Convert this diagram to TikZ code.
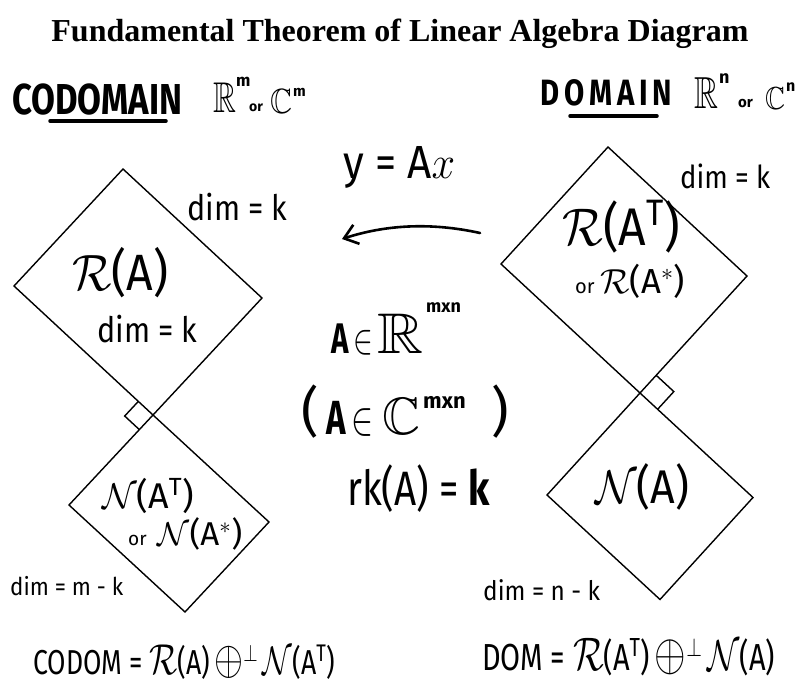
\documentclass[tikz,border=0pt]{standalone}
\usepackage{amsmath,amssymb}
\usepackage{fontspec}
\setmainfont{Liberation Serif}
\newfontfamily\hand{Fira Sans}
\usetikzlibrary{arrows.meta,calc}
\newcommand\hw[2]{\resizebox{#1pt}{!}{\fontsize{20.74}{24}\selectfont\hand #2}}
\newcommand\tallx[1]{\scalebox{1}[1.25]{#1}}
\newcommand\vs[2]{\scalebox{1}[#1]{#2}}
\newcommand\hs[1]{\fontsize{#1}{#1}\selectfont\hand}
\newcommand\bigR{\scalebox{1.25}{$\mathcal{R}$}}
\newcommand\bigN{\scalebox{1.15}{$\mathcal{N}$}}
\newcommand\osum{\,\scalebox{1.4}{$\oplus$}$^{\perp}$\,}
\begin{document}
\begin{tikzpicture}[x=1pt,y=-1pt,
  edge/.style={line width=1.4pt, line join=miter},
  txt/.style={inner sep=0pt, anchor=base west},
  uline/.style={line width=3.5pt, line cap=round},
  arr/.style={line width=2.6pt, line cap=round, -{Straight Barb[length=13pt,width=20pt]}}]
\useasboundingbox (0,0) rectangle (800,698);
% title
\node[inner sep=0pt, anchor=base, font=\bfseries\fontsize{32}{36}\selectfont] (title) at (400,42) {Fundamental Theorem of Linear Algebra Diagram};
% left header
\node[txt] (codomain) at (12,115) {\hw{170}{\bfseries\tallx{CODOMAIN}}};
\coordinate (u1a) at (50,121); \coordinate (u1b) at (166,121);
\draw[uline] (u1a) -- (u1b);
\node[txt] (R1) at (213,113) {\hw{23}{\vs{1.35}{$\mathbb{R}$}}};
\node[txt] (m1) at (236,87) {\hs{17}\bfseries m};
\node[txt] (or1) at (249,112) {\hs{14}\bfseries or};
\node[txt] (C1) at (270,114) {\hw{22}{\vs{1.15}{$\mathbb{C}$}}};
\node[txt] (m1b) at (293,97) {\hs{15}\bfseries m};
% right header
\node[txt] (domain) at (540,106) {\hw{132}{\bfseries\tallx{D\,O\,M\,A\,I\,N}}};
\coordinate (u2a) at (570,116); \coordinate (u2b) at (657,116);
\draw[uline] (u2a) -- (u2b);
\node[txt] (R2) at (694,108) {\hw{24}{\vs{1.35}{$\mathbb{R}$}}};
\node[txt] (n2) at (719,84) {\hs{18}\bfseries n};
\node[txt] (or2) at (738,108) {\hs{15}\bfseries or};
\node[txt] (C2) at (765,110) {\hw{20}{\vs{1.15}{$\mathbb{C}$}}};
\node[txt] (n2b) at (786,92) {\hs{16}\bfseries n};
% diamonds left
\coordinate (LT) at (123,169); \coordinate (LL) at (14,286);
\coordinate (LR) at (262,298); \coordinate (LB) at (153,415);
\coordinate (SL1) at (69,505); \coordinate (SR1) at (269,522); \coordinate (SB1) at (185,612);
\draw[edge] (LT) -- (LR) -- (LB) -- (LL) -- cycle;
\draw[edge] (LB) -- (SR1) -- (SB1) -- (SL1) -- cycle;
\coordinate (qa) at ($(LB)!20pt!(LL)$);
\coordinate (qb) at ($(LB)!20pt!(SL1)$);
\draw[edge] (qa) -- ($(qa)+(qb)-(LB)$) -- (qb);
% diamonds right
\coordinate (RT) at (608,147); \coordinate (RL) at (501,264);
\coordinate (RR) at (747,276); \coordinate (RB) at (640,393);
\coordinate (SL2) at (547,495); \coordinate (SR2) at (753,497.5); \coordinate (SB2) at (660,599.5);
\draw[edge] (RT) -- (RR) -- (RB) -- (RL) -- cycle;
\draw[edge] (RB) -- (SR2) -- (SB2) -- (SL2) -- cycle;
\coordinate (qc) at ($(RB)!24pt!(RR)$);
\coordinate (qd) at ($(RB)!24pt!(SR2)$);
\draw[edge] (qc) -- ($(qc)+(qd)-(RB)$) -- (qd);
% arrow
\coordinate (atail) at (480,233); \coordinate (ahead) at (342,239);
\draw[arr] (atail) .. controls (430,222) and (385,225) .. (ahead);
\node[txt] (yax) at (343,178) {\hw{112}{\vs{1.1}{y = A$x$}}};
% left diamond texts
\node[txt] (dimk1) at (187,220) {\hw{100}{\vs{1.15}{dim = k}}};
\node[txt] (RA) at (72,290) {\hw{96}{\vs{1.1}{$\mathcal{R}$(A)}}};
\node[txt] (dimk2) at (97,342) {\hw{100}{\vs{1.15}{dim = k}}};
\node[txt] (NAT) at (102,508) {\hw{92}{$\mathcal{N}$(A$^{\text{T}}$)}};
\node[txt] (orNA) at (128,545) {\hw{114}{{\fontsize{12}{12}\selectfont or}\,\,$\mathcal{N}$(A$^{*}$)}};
\node[txt] (dimmk) at (10,595) {\hw{113}{\vs{1.1}{dim = m - k}}};
% right diamond texts
\node[txt] (dimk3) at (680,189) {\hw{90}{\vs{1.15}{dim = k}}};
\node[txt] (RAT) at (562,245) {\hw{118}{\vs{1.1}{$\mathcal{R}$(A$^{\text{T}}$)}}};
\node[txt] (orRA) at (575,293) {\hw{110}{{\fontsize{12}{12}\selectfont or}\,$\mathcal{R}$(A$^{*}$)}};
\node[txt] (NA) at (595,503) {\hw{94}{\vs{1.1}{$\mathcal{N}$(A)}}};
\node[txt] (dimnk) at (483,600) {\hw{117}{\vs{1.1}{dim = n - k}}};
% centre: A in R^{mxn}
\node[txt] (A1) at (331,353) {\hw{42}{\vs{1.45}{{\bfseries A}\,$\in$}}};
\node[txt] (R3) at (377,353) {\hw{46}{\vs{0.9}{$\mathbb{R}$}}};
\node[txt] (s1) at (426,312) {\hs{18}\bfseries mxn};
% centre: (A in C^{mxn})
\node[txt] (lp) at (301,430) {\hs{54}(};
\node[txt] (A2) at (326,434) {\hw{47}{\vs{1.45}{{\bfseries A}\,$\in$}}};
\node[txt] (C3) at (382,434) {\hw{38}{$\mathbb{C}$}};
\node[txt] (s2) at (423,408) {\hs{22}\bfseries mxn};
\node[txt] (rp) at (491,430) {\hs{54})};
% rank
\node[txt] (rk) at (347,505) {\hw{143}{\vs{1.25}{rk(A) = {\bfseries k}}}};
% bottom
\node[txt] (codom) at (33,674) {\hw{302}{\vs{1.3}{CODOM = \bigR(A)\osum\bigN(A$^{\text{T}}$)}}};
\node[txt] (dom) at (482,670) {\hw{293}{\vs{1.3}{DOM = \bigR(A$^{\text{T}}$)\osum\bigN(A)}}};
\end{tikzpicture}
\end{document}
